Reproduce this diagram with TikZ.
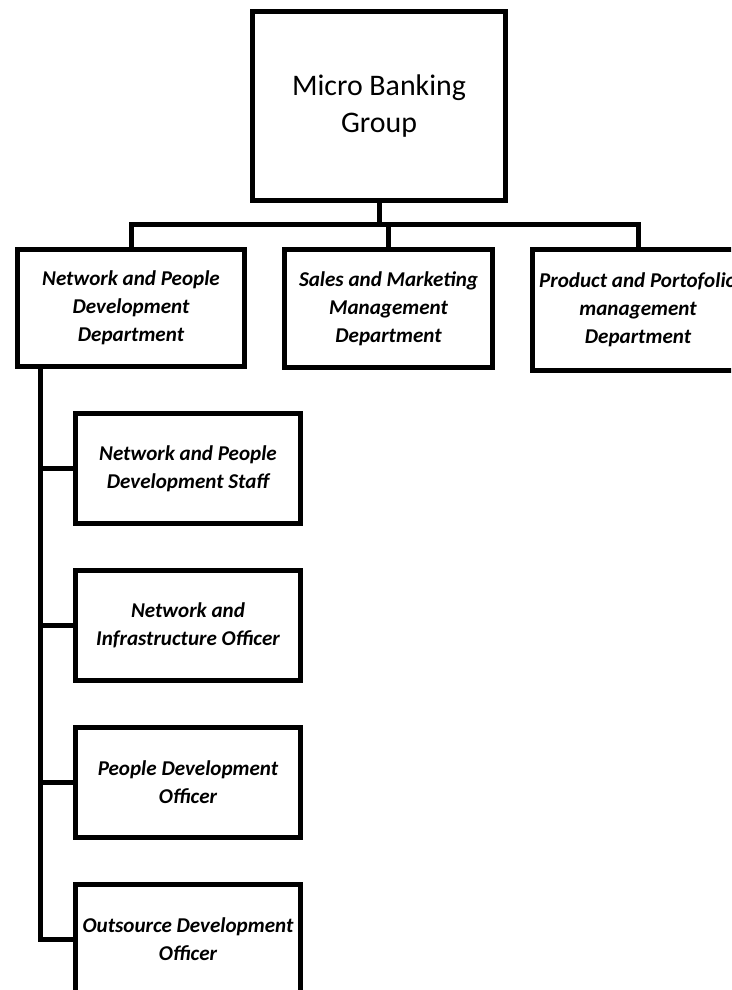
\documentclass[tikz,border=0pt]{standalone}
\usepackage{fontspec}
\setmainfont{Carlito}
\usetikzlibrary{positioning}

\begin{document}
\begin{tikzpicture}[x=0.02cm, y=-0.02cm,
  grpbox/.style={draw, line width=0.1cm, minimum width=5.06cm, minimum height=3.78cm, align=center, font=\fontsize{17}{21.5}\selectfont},
  deptbox/.style={draw, line width=0.1cm, minimum height=2.36cm, inner sep=1pt, align=center, font=\fontsize{12}{15.9}\selectfont\bfseries\itshape},
  unitbox/.style={deptbox, minimum width=4.5cm, minimum height=2.2cm},
  link/.style={line width=0.1cm}
]
\useasboundingbox (0,0) rectangle (731,990);
\clip (0,0) rectangle (731,990);
\node[grpbox] (mbg) at (379,106) {Micro Banking\\Group};
\node[deptbox, minimum width=4.54cm, minimum height=2.34cm] (npd) at (131,308) {Network and People\\Development\\Department};
\node[deptbox, minimum width=4.16cm] (smd) at (388.5,308.5) {Sales and Marketing\\Management\\Department};
\node[deptbox, minimum width=4.22cm, minimum height=2.42cm] (ppd) at (638,310) {Product and Portofolio\\management\\Department};
\node[unitbox] (staff) at (188,468.5) {Network and People\\Development Staff};
\node[unitbox, below=0.84cm of staff] (infra) {Network and\\Infrastructure Officer};
\node[unitbox, below=0.84cm of infra] (people) {People Development\\Officer};
\node[unitbox, below=0.84cm of people] (outs) {Outsource Development\\Officer};
% bar under the group box
\coordinate (bar) at (379,224);
\draw[link] (mbg.south) -- (mbg.south |- bar);
\draw[link] (npd.north) |- (bar) -| (ppd.north);
\draw[link] (smd.north) -- (smd.north |- bar);
% spine down the left side
\coordinate (spine) at (40,369);
\draw[link] (spine) |- (outs.west);
\foreach \u in {staff,infra,people}
  \draw[link] (spine |- \u.west) -- (\u.west);
\end{tikzpicture}
\end{document}
